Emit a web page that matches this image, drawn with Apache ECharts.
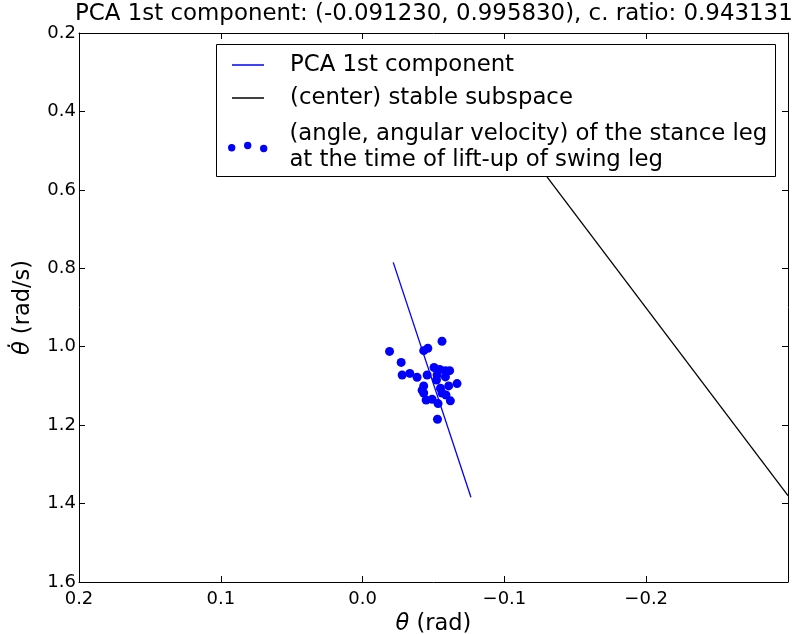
<!DOCTYPE html>
<html>
<head>
<meta charset="utf-8">
<script src="https://cdn.jsdelivr.net/npm/echarts@6/dist/echarts.min.js"></script>
<style>
  html, body { margin: 0; padding: 0; background: #fff; }
  #chart { width: 793px; height: 634px; }
</style>
</head>
<body>
<div id="chart"></div>
<script>
// Stance-leg state (angle, angular velocity) at lift-up of the swing leg
const theta = [
  -0.0190, -0.0560, -0.0431, -0.0460, -0.0272, -0.0279, -0.0333, -0.0384,
  -0.0455, -0.0504, -0.0544, -0.0584, -0.0614, -0.0525, -0.0584, -0.0521,
  -0.0666, -0.0607, -0.0431, -0.0420, -0.0549, -0.0431, -0.0560, -0.0588,
  -0.0448, -0.0490, -0.0532, -0.0619, -0.0528
];
const thetaDot = [
  1.012, 0.986, 1.010, 1.004, 1.040, 1.072, 1.068, 1.078,
  1.072, 1.053, 1.058, 1.061, 1.061, 1.072, 1.077, 1.085,
  1.094, 1.100, 1.100, 1.111, 1.106, 1.118, 1.118, 1.123,
  1.136, 1.134, 1.145, 1.138, 1.185
];

// PCA 1st component segment (end points)
const pcaTheta = [-0.0216, -0.0764];
const pcaThetaDot = [0.785, 1.384];

// (center) stable subspace segment (end points)
const stableTheta = [-0.0742, -0.3000];
const stableThetaDot = [0.300, 1.380];

// Axis ranges and tick steps
const xRange = [-0.3, 0.2];
const xStep = 0.1;
const yRange = [0.2, 1.6];
const yStep = 0.2;

const titleText = 'PCA 1st component: (-0.091230, 0.995830), c. ratio: 0.943131';
const seriesNames = [
  'PCA 1st component',
  '(center) stable subspace',
  '(angle, angular velocity) of the stance leg\nat the time of lift-up of swing leg'
];

const FONT = 'DejaVu Sans';
const pairs = (xs, ys) => xs.map((x, i) => [x, ys[i]]);
const fmt = v => {
  const r = Math.round(v * 10) / 10;
  return (r === 0 ? '0.0' : r.toFixed(1)).replace('-', '\u2212');
};

const tickCommon = {
  axisLine: { show: true, onZero: false, lineStyle: { color: '#000', width: 1 } },
  axisTick: { show: true, inside: true, length: 6, lineStyle: { color: '#000', width: 1 } },
  splitLine: { show: false }
};

const chart = echarts.init(document.getElementById('chart'), null, { renderer: 'canvas' });

chart.setOption({
  animation: false,
  backgroundColor: '#fff',
  title: {
    text: titleText,
    left: 75,
    top: 3,
    padding: 0,
    textStyle: { fontFamily: FONT, fontSize: 22.9, fontWeight: 'normal', color: '#000' }
  },
  grid: { left: 79, right: 5, top: 33, bottom: 52, containLabel: false, outerBoundsMode: 'none' },
  xAxis: [
    Object.assign({
      type: 'value', position: 'bottom', inverse: true,
      min: xRange[0], max: xRange[1], interval: xStep,
      name: '{i|θ} (rad)', nameLocation: 'middle', nameGap: 24,
      nameTextStyle: {
        fontFamily: FONT, fontSize: 22.5, color: '#000',
        rich: { i: { fontFamily: FONT, fontStyle: 'italic', fontSize: 22.5, color: '#000' } }
      },
      axisLabel: {
        fontFamily: FONT, fontSize: 18, color: '#000', margin: 8,
        formatter: v => (Math.abs(v - xRange[0]) < 1e-9 ? '' : fmt(v))
      }
    }, tickCommon),
    Object.assign({
      type: 'value', position: 'top', inverse: true,
      min: xRange[0], max: xRange[1], interval: xStep,
      axisLabel: { show: false }
    }, tickCommon)
  ],
  yAxis: [
    Object.assign({
      type: 'value', position: 'left', inverse: true,
      min: yRange[0], max: yRange[1], interval: yStep,
      name: '{i|θ\u0307} (rad/s)', nameLocation: 'middle', nameGap: 44,
      nameTextStyle: {
        fontFamily: FONT, fontSize: 22.5, color: '#000',
        rich: { i: { fontFamily: FONT, fontStyle: 'italic', fontSize: 22.5, color: '#000' } }
      },
      axisLabel: { fontFamily: FONT, fontSize: 18, color: '#000', margin: 3, formatter: fmt }
    }, tickCommon),
    Object.assign({
      type: 'value', position: 'right', inverse: true,
      min: yRange[0], max: yRange[1], interval: yStep,
      axisLabel: { show: false }
    }, tickCommon)
  ],
  legend: [
    {
      orient: 'vertical', left: 232, top: 52, padding: 0, itemGap: 7,
      itemWidth: 32, itemHeight: 1.5, z: 20,
      icon: 'path://M0,0h32v1.5h-32z',
      data: [
        { name: seriesNames[0], itemStyle: { color: '#0000ff' } },
        { name: seriesNames[1], itemStyle: { color: '#000000' } }
      ],
      selectedMode: false,
      textStyle: { fontFamily: FONT, fontSize: 22.8, lineHeight: 26, color: '#000', padding: [0, 0, 0, 21] }
    },
    {
      orient: 'vertical', left: 228, top: 121, padding: 0,
      itemWidth: 39.4, itemHeight: 10.4, z: 20,
      data: [{
        name: seriesNames[2],
        icon: 'path://M0,6a3.7,3.7 0 1,0 7.4,0a3.7,3.7 0 1,0 -7.4,0z' +
              'M16,3.7a3.7,3.7 0 1,0 7.4,0a3.7,3.7 0 1,0 -7.4,0z' +
              'M32,6.7a3.7,3.7 0 1,0 7.4,0a3.7,3.7 0 1,0 -7.4,0z',
        itemStyle: { color: '#0000ff' }
      }],
      selectedMode: false,
      textStyle: { fontFamily: FONT, fontSize: 22.8, lineHeight: 26, color: '#000', padding: [0, 0, 0, 17] }
    }
  ],
  graphic: [{
    type: 'rect', z: 10,
    shape: { x: 216.5, y: 44.5, width: 559, height: 132 },
    style: { fill: '#fff', stroke: '#000', lineWidth: 1 }
  }],
  series: [
    {
      name: seriesNames[0], type: 'line', xAxisIndex: 0, yAxisIndex: 0,
      data: pairs(pcaTheta, pcaThetaDot), symbol: 'none', clip: true,
      lineStyle: { color: '#0000ff', width: 1.3 }, itemStyle: { color: '#0000ff' }, z: 3
    },
    {
      name: seriesNames[1], type: 'line', xAxisIndex: 0, yAxisIndex: 0,
      data: pairs(stableTheta, stableThetaDot), symbol: 'none', clip: true,
      lineStyle: { color: '#000000', width: 1.3 }, itemStyle: { color: '#000000' }, z: 3
    },
    {
      name: seriesNames[2], type: 'scatter', xAxisIndex: 0, yAxisIndex: 0,
      data: pairs(theta, thetaDot), symbol: 'circle', symbolSize: 9,
      itemStyle: { color: '#0000ff', opacity: 1 }, z: 2
    }
  ]
});
</script>
</body>
</html>
